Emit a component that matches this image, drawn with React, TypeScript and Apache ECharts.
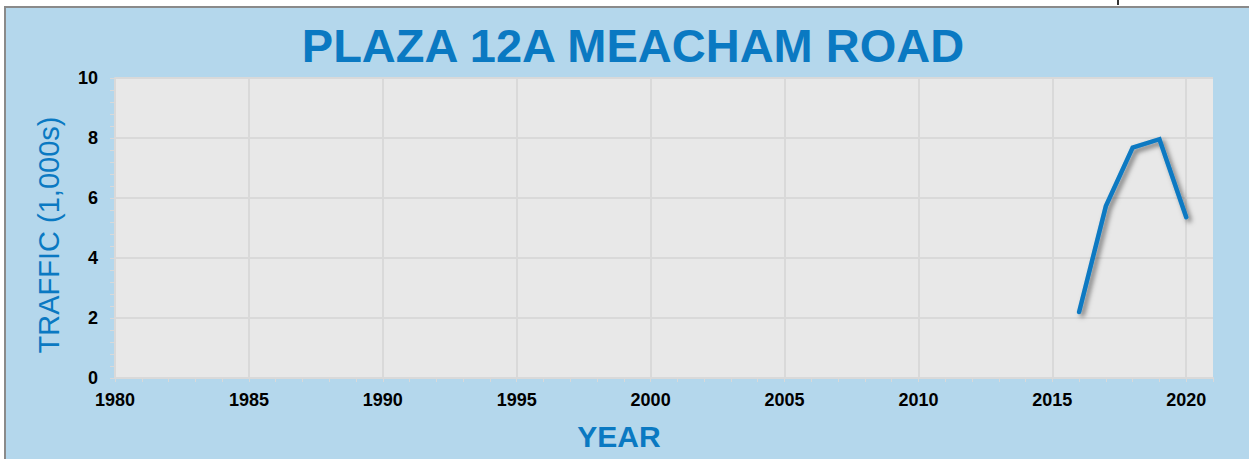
import React, { useEffect, useRef } from "react";
import * as echarts from "echarts";

const years = [2016, 2017, 2018, 2019, 2020];
const traffic = [2.2, 5.73, 7.68, 7.96, 5.36];
const titleText = "PLAZA 12A MEACHAM ROAD";
const yName = "TRAFFIC (1,000s)";
const xName = "YEAR";

const BLUE = "#0a79c2";
const GRID = "#d9d9d9";

export default function App() {
  const ref = useRef<HTMLDivElement>(null);
  useEffect(() => {
    document.body.style.margin = "0";
    const chart = echarts.init(ref.current!, null, { renderer: "svg" });
    chart.setOption({
      animation: false,
      backgroundColor: "transparent",
      grid: {
        left: 115,
        top: 78,
        right: 36,
        bottom: 81,
        show: true,
        backgroundColor: "#e8e8e8",
        borderWidth: 0,
      },
      xAxis: {
        type: "value",
        min: 1980,
        max: 2021,
        interval: 5,
        axisLine: { show: true, onZero: false, lineStyle: { color: GRID, width: 2 } },
        axisTick: { show: true, length: 4, lineStyle: { color: GRID, width: 1 } },
        minorTick: { show: true, splitNumber: 5, length: 4, lineStyle: { color: GRID, width: 1 } },
        splitLine: { show: true, showMaxLine: false, lineStyle: { color: GRID, width: 2 } },
        axisLabel: {
          color: "#000",
          fontWeight: "bold",
          fontSize: 18,
          fontFamily: "Liberation Sans, Arial, sans-serif",
          margin: 13,
          showMaxLabel: false,
          formatter: (v: number) => (v % 5 === 0 ? String(v) : ""),
        },
      },
      yAxis: {
        type: "value",
        min: 0,
        max: 10,
        interval: 2,
        axisLine: { show: true, lineStyle: { color: GRID, width: 2 } },
        axisTick: { show: true, length: 5, lineStyle: { color: GRID, width: 1 } },
        minorTick: { show: true, splitNumber: 5, length: 5, lineStyle: { color: GRID, width: 1 } },
        splitLine: { show: true, lineStyle: { color: GRID, width: 2 } },
        axisLabel: {
          color: "#000",
          fontWeight: "bold",
          fontSize: 18,
          fontFamily: "Liberation Sans, Arial, sans-serif",
          margin: 17,
        },
      },
      series: [
        {
          type: "line",
          data: years.map((y, i) => [y, traffic[i]]),
          showSymbol: false,
          symbol: "none",
          lineStyle: {
            color: BLUE,
            width: 4.5,
            cap: "round",
            join: "miter",
            shadowColor: "rgba(0,0,0,0.5)",
            shadowBlur: 5,
            shadowOffsetX: 3,
            shadowOffsetY: 3,
          },
          z: 5,
        },
      ],
      graphic: [
        {
          type: "text",
          x: 633,
          y: 45,
          style: {
            text: titleText,
            fill: BLUE,
            fontSize: 47,
            fontWeight: "bold",
            fontFamily: "Liberation Sans, Arial, sans-serif",
            align: "center",
            verticalAlign: "middle",
          },
        },
        {
          type: "text",
          x: 49,
          y: 235,
          rotation: Math.PI / 2,
          style: {
            text: yName,
            fill: BLUE,
            fontSize: 29,
            fontWeight: "normal",
            fontFamily: "Liberation Sans, Arial, sans-serif",
            align: "center",
            verticalAlign: "middle",
          },
        },
        {
          type: "text",
          x: 619,
          y: 436,
          style: {
            text: xName,
            fill: BLUE,
            fontSize: 30,
            fontWeight: "bold",
            fontFamily: "Liberation Sans, Arial, sans-serif",
            align: "center",
            verticalAlign: "middle",
          },
        },
      ],
    });
    return () => chart.dispose();
  }, []);

  return (
    <div style={{ position: "fixed", left: 0, top: 0, width: 1249, height: 459, background: "#fff", overflow: "hidden" }}>
      <div
        style={{
          position: "absolute",
          left: 4,
          top: 6,
          right: 0,
          bottom: 0,
          background: "#b4d7ec",
          borderLeft: "2px solid #8a8a8a",
          borderTop: "2px solid #8a8a8a",
        }}
      />
      <div style={{ position: "absolute", left: 1117, top: 0, width: 2, height: 5, background: "#333" }} />
      <div ref={ref} style={{ position: "absolute", left: 0, top: 0, width: 1249, height: 459 }} />
    </div>
  );
}
